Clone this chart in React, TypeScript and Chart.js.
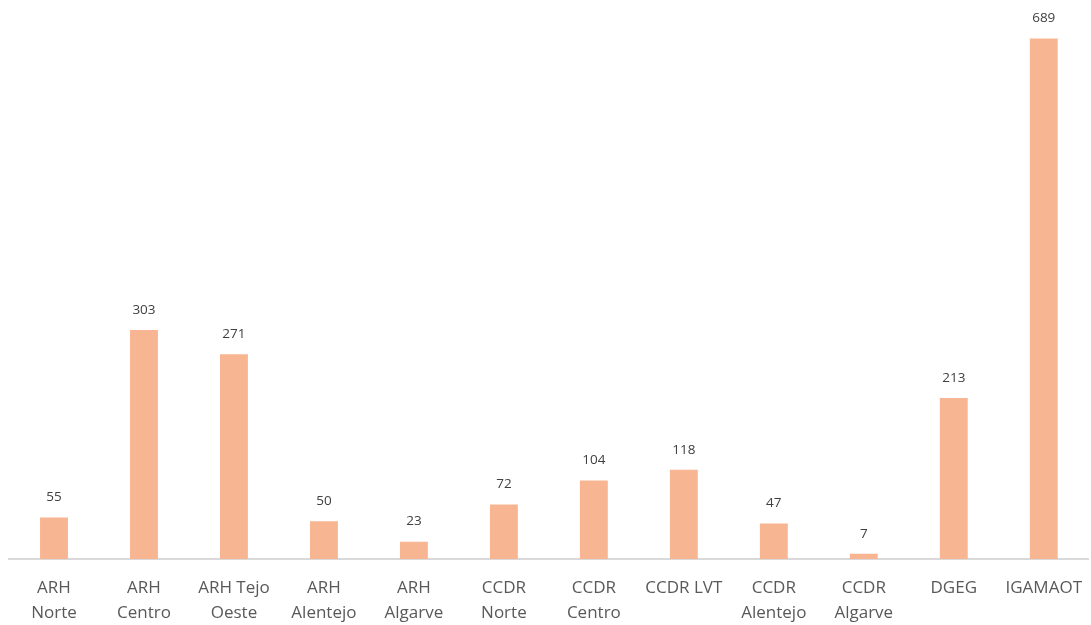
import React, { useEffect, useRef } from "react";
import { Chart, registerables } from "chart.js";

Chart.register(...registerables);

const categories: string[][] = [
  ["ARH", "Norte"],
  ["ARH", "Centro"],
  ["ARH Tejo", "Oeste"],
  ["ARH", "Alentejo"],
  ["ARH", "Algarve"],
  ["CCDR", "Norte"],
  ["CCDR", "Centro"],
  ["CCDR LVT"],
  ["CCDR", "Alentejo"],
  ["CCDR", "Algarve"],
  ["DGEG"],
  ["IGAMAOT"],
];
const values: number[] = [55, 303, 271, 50, 23, 72, 104, 118, 47, 7, 213, 689];

const FONT = "'Open Sans', 'Noto Sans', sans-serif";

const valueLabels = {
  id: "valueLabels",
  afterDatasetsDraw(chart: any) {
    const ctx = chart.ctx;
    const meta = chart.getDatasetMeta(0);
    ctx.save();
    ctx.font = `13.5px ${FONT}`;
    ctx.fillStyle = "#404040";
    ctx.textAlign = "center";
    ctx.textBaseline = "middle";
    meta.data.forEach((bar: any, i: number) => {
      ctx.fillText(String(values[i]), bar.x, bar.y - 20);
    });
    ctx.restore();
  },
};

export default function App() {
  const ref = useRef<HTMLCanvasElement>(null);
  useEffect(() => {
    if (!ref.current) return;
    const chart = new Chart(ref.current, {
      type: "bar",
      data: {
        labels: categories,
        datasets: [
          {
            data: values,
            backgroundColor: "#F8B592",
            barPercentage: 0.31,
            categoryPercentage: 1,
          },
        ],
      },
      options: {
        animation: false,
        responsive: true,
        maintainAspectRatio: false,
        layout: { padding: { left: 9, right: 0, top: 0, bottom: 0 } },
        plugins: { legend: { display: false }, tooltip: { enabled: false } },
        scales: {
          x: {
            grid: { display: false },
            border: { display: true, color: "#D9D9D9", width: 2 },
            afterFit: (scale: any) => {
              scale.height = 66;
            },
            ticks: {
              color: "#595959",
              font: { family: FONT, size: 17, lineHeight: 1.45 },
              padding: 9,
              maxRotation: 0,
              autoSkip: false,
            },
          },
          y: {
            display: false,
            min: 0,
            max: 740,
          },
        },
      },
      plugins: [valueLabels],
    });
    return () => chart.destroy();
  }, []);
  return (
    <div style={{ position: "fixed", left: 0, top: 0, width: 1091, height: 625, background: "#fff" }}>
      <canvas ref={ref} />
    </div>
  );
}
